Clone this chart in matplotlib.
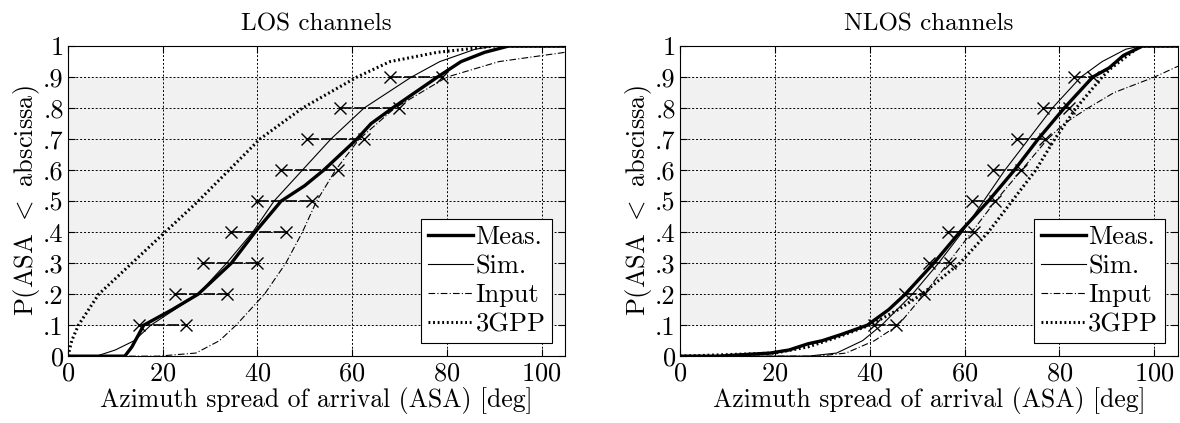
import matplotlib
matplotlib.use('Agg')
import matplotlib.pyplot as plt

plt.rcParams['font.family'] = ['cmr10', 'DejaVu Serif']
plt.rcParams['mathtext.fontset'] = 'cm'
plt.rcParams['axes.formatter.use_mathtext'] = True

# CDF levels and ASA values (deg)
los_meas_y = [0, 0, 0.03, 0.1, 0.15, 0.2, 0.3, 0.4, 0.5, 0.55, 0.6, 0.7, 0.75, 0.8, 0.9, 0.95, 0.98, 1.0, 1.0]
los_meas_x = [0, 12, 13.5, 16, 22, 27.5, 34.5, 39.5, 45, 50, 54, 61, 64, 68.5, 78, 83, 88, 93, 105]
los_sim_y = [0, 0, 0.02, 0.05, 0.1, 0.2, 0.3, 0.4, 0.5, 0.6, 0.7, 0.8, 0.9, 0.95, 0.99, 1.0, 1.0]
los_sim_x = [0, 6, 10, 14, 17.5, 27.5, 33.5, 39, 43.5, 49.5, 55.5, 62.5, 72.5, 78.5, 86, 90, 105]
los_in_y = [0, 0, 0.01, 0.05, 0.1, 0.2, 0.3, 0.4, 0.5, 0.6, 0.7, 0.8, 0.9, 0.95, 0.98]
los_in_x = [0, 19, 27, 32, 35.5, 41.5, 46, 49.5, 52.5, 56.5, 61.5, 69, 80, 91, 105]
los_3g_y = [0, 0.05, 0.1, 0.2, 0.3, 0.4, 0.5, 0.6, 0.7, 0.8, 0.9, 0.95, 0.98, 1.0, 1.0]
los_3g_x = [0, 0.8, 2.2, 6.5, 13.5, 20.5, 27.5, 34, 40.5, 49.5, 61, 68, 78, 90, 105]

nlos_meas_y = [0, 0, 0.01, 0.02, 0.04, 0.05, 0.07, 0.1, 0.15, 0.2, 0.25, 0.3, 0.4, 0.5, 0.6, 0.7, 0.8, 0.9, 0.93, 0.97, 1.0, 1.0]
nlos_meas_x = [0, 8, 19, 23, 27, 30, 34, 39.5, 44, 47.5, 50.5, 53.5, 59, 65, 70.5, 75.5, 81, 87, 90.5, 93.5, 97.5, 105]
nlos_sim_y = [0, 0, 0.01, 0.05, 0.1, 0.2, 0.3, 0.4, 0.5, 0.6, 0.7, 0.8, 0.9, 0.95, 0.99, 1.0, 1.0]
nlos_sim_x = [0, 27, 33, 38.5, 42.5, 49, 54.5, 59.5, 64, 68.5, 73.5, 78.5, 84.5, 89, 94, 97, 105]
nlos_in_y = [0, 0, 0.01, 0.05, 0.1, 0.2, 0.3, 0.4, 0.5, 0.6, 0.7, 0.75, 0.8, 0.85, 0.9, 0.935]
nlos_in_x = [0, 29, 35, 41, 46, 51.5, 56.5, 61.5, 66.5, 72, 77.5, 81, 86, 91.5, 100, 105]
nlos_3g_y = [0, 0.01, 0.03, 0.06, 0.1, 0.15, 0.2, 0.3, 0.4, 0.5, 0.6, 0.7, 0.8, 0.9, 0.93, 1.0, 1.0]
nlos_3g_x = [0, 20, 27, 33, 40, 46, 51, 59, 65, 70, 75, 79, 83.5, 89, 91, 97, 105]

# deciles with interval ends (crosses)
levels = [0.1, 0.2, 0.3, 0.4, 0.5, 0.6, 0.7, 0.8, 0.9]
los_lo = [15, 22.5, 28.5, 34.5, 40, 45, 50.5, 57.5, 68]
los_hi = [25, 33.5, 40, 46, 51.5, 57, 62.5, 70, 79]
nlos_lo = [41, 47.5, 52.5, 56.5, 61.5, 66, 71, 76.5, 83]
nlos_hi = [45.5, 51.5, 57, 62, 66.5, 72, 77, 82, 87]

ytick_vals = [0, 0.1, 0.2, 0.3, 0.4, 0.5, 0.6, 0.7, 0.8, 0.9, 1]
ytick_labels = ['0', '.1', '.2', '.3', '.4', '.5', '.6', '.7', '.8', '.9', '1']

fs = 19
fig = plt.figure(figsize=(11.8, 4.23), dpi=100)
ax1 = fig.add_axes([0.0576, 0.158, 0.4214, 0.733])
ax2 = fig.add_axes([0.5763, 0.158, 0.4220, 0.733])

panels = [
    (ax1, 'LOS channels', (los_meas_x, los_meas_y), (los_sim_x, los_sim_y),
     (los_in_x, los_in_y), (los_3g_x, los_3g_y), los_lo, los_hi),
    (ax2, 'NLOS channels', (nlos_meas_x, nlos_meas_y), (nlos_sim_x, nlos_sim_y),
     (nlos_in_x, nlos_in_y), (nlos_3g_x, nlos_3g_y), nlos_lo, nlos_hi),
]

for ax, title, meas, sim, inp, g3, lo, hi in panels:
    ax.axhspan(0.1, 0.9, color='#f1f1f1', zorder=0)
    ax.grid(True, linestyle=(0, (2, 2)), color='black', linewidth=0.7)
    ax.set_axisbelow(True)

    for lv, a, b in zip(levels, lo, hi):
        ax.plot([a, b], [lv, lv], color='black', linestyle=(0, (7, 1.5)), linewidth=1.2, zorder=2)
        ax.plot([a, b], [lv, lv], 'x', color='black', markersize=9, markeredgewidth=1.0, zorder=3)

    ax.plot(meas[0], meas[1], color='black', linewidth=2.4, label='Meas.', zorder=4)
    ax.plot(sim[0], sim[1], color='black', linewidth=0.8, label='Sim.', zorder=4)
    ax.plot(inp[0], inp[1], color='black', linewidth=0.8, linestyle=(0, (6, 2, 1, 2)), label='Input', zorder=4)
    ax.plot(g3[0], g3[1], color='black', linewidth=2.2, linestyle=(0, (0.6, 0.9)), label='3GPP', zorder=4)

    ax.set_xlim(0, 105)
    ax.set_ylim(0, 1)
    ax.set_xticks([0, 20, 40, 60, 80, 100])
    ax.set_yticks(ytick_vals)
    ax.set_yticklabels(ytick_labels)
    ax.tick_params(direction='in', top=True, right=True, labelsize=fs, length=5)
    ax.tick_params(axis='x', pad=4)
    ax.tick_params(axis='y', pad=3)
    ax.set_title(title, fontsize=18, pad=11)
    ax.set_xlabel('Azimuth spread of arrival (ASA) [deg]', fontsize=18.5, labelpad=1)
    ax.set_ylabel('P(ASA $<$ abscissa)', fontsize=fs, labelpad=1)
    leg = ax.legend(loc='lower right', fontsize=fs, fancybox=False, framealpha=1,
                    edgecolor='black', handlelength=1.7, handletextpad=0.1,
                    borderpad=0.25, labelspacing=0.2, borderaxespad=0.5)
    leg.get_frame().set_linewidth(0.8)

plt.savefig('out.png', dpi=100)
